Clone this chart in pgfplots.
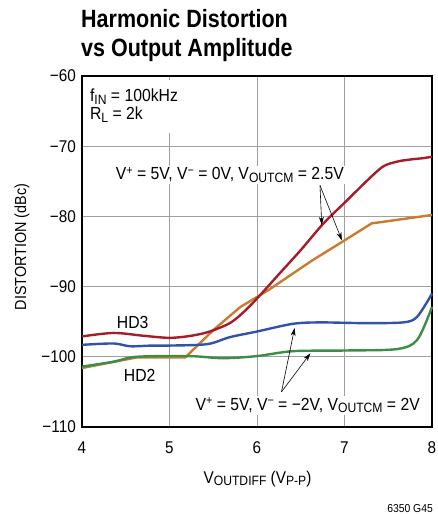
\documentclass[border=0pt]{standalone}
\usepackage{fontspec}
\setmainfont{Liberation Sans}[FakeStretch=0.9]
\newfontfamily\titlefont{Liberation Sans}[FakeStretch=0.86]
\usepackage{pgfplots}
\pgfplotsset{compat=1.18}
\usetikzlibrary{arrows.meta}
\definecolor{cred}{HTML}{A31D2A}
\definecolor{corange}{HTML}{CC7B2E}
\definecolor{cblue}{HTML}{3353A8}
\definecolor{cgreen}{HTML}{3C8D45}
\newcommand\lo[1]{\raisebox{-0.3ex}{\fontsize{13.5}{13.5}\selectfont #1}}
\newcommand\hi[1]{\raisebox{0.6ex}{\fontsize{12}{12}\selectfont #1}}
\begin{document}
\begin{tikzpicture}[x=1pt,y=1pt]
\begin{axis}[at={(0,0)}, anchor=south west, scale only axis,
  width=350pt, height=351pt,
  xmin=4, xmax=8, ymin=-110, ymax=-60,
  xtick={4,5,6,7,8}, xticklabels={4,5,6,7,8},
  ytick={-110,-100,-90,-80,-70,-60},
  yticklabels={−110,−100,−90,−80,−70,−60},
  grid=major, major grid style={gray!75, line width=0.8pt},
  major tick length=0pt,
  axis line style={line width=1.6pt},
  tick label style={font=\fontsize{17}{17}\selectfont},
  xticklabel style={anchor=base, yshift=-26pt, inner sep=0pt},
  yticklabel style={anchor=east, xshift=-6pt, inner sep=0pt},
  clip=false]
\fill[white] (axis cs:4.03,-60.5) rectangle (axis cs:5.25,-68.1);
\node[anchor=base west, inner sep=0pt, font=\fontsize{17.5}{17.5}\selectfont] at (axis cs:4.09,-63.6) {f\lo{IN} = 100kHz};
\node[anchor=base west, inner sep=0pt, font=\fontsize{17.5}{17.5}\selectfont] at (axis cs:4.09,-66.2) {R\lo{L} = 2k};
\node[anchor=base, fill=white, inner sep=1.5pt, font=\fontsize{17.5}{17.5}\selectfont] at (axis cs:5.69,-74.8) {V\hi{+} = 5V, V\hi{−} = 0V, V\lo{OUTCM} = 2.5V};
\node[anchor=base, fill=white, inner sep=1.5pt, font=\fontsize{17.5}{17.5}\selectfont] at (axis cs:6.58,-107.6) {V\hi{+} = 5V, V\hi{−} = −2V, V\lo{OUTCM} = 2V};
\node[anchor=base, fill=white, inner sep=1pt, font=\fontsize{17.5}{17.5}\selectfont] at (axis cs:4.58,-95.9) {HD3};
\node[anchor=base, fill=white, inner sep=1pt, font=\fontsize{17.5}{17.5}\selectfont] at (axis cs:4.66,-103.5) {HD2};
\addplot[corange, line width=2.4pt, sharp plot] coordinates {
(4.0,-101.6) (4.62,-100.1) (5.18,-100.1) (5.5,-96.2) (5.81,-92.9) (6.13,-90.5) (6.64,-86.2) (6.99,-83.5) (7.31,-81.0) (8.0,-79.8)};
\addplot[cred, line width=2.4pt, smooth] coordinates {
(4.0,-97.1) (4.36,-96.6) (4.7,-97.0) (5.0,-97.3) (5.25,-97.0) (5.46,-96.4) (5.69,-95.2) (5.85,-93.6) (6.0,-91.7) (6.26,-88.1) (6.5,-84.8) (6.76,-81.0) (7.03,-77.7) (7.25,-75.0) (7.44,-72.9) (7.6,-72.2) (7.75,-71.9) (7.9,-71.7) (8.0,-71.5)};
\addplot[cgreen, line width=2.4pt, smooth] coordinates {
(4.0,-101.4) (4.36,-100.7) (4.62,-100.0) (5.23,-99.9) (5.61,-100.2) (6.0,-99.9) (6.41,-99.2) (7.03,-99.1) (7.6,-98.9) (7.83,-97.6) (8.0,-92.9)};
\addplot[cblue, line width=2.4pt, smooth] coordinates {
(4.0,-98.3) (4.36,-98.1) (4.55,-98.5) (4.8,-98.4) (5.0,-98.4) (5.43,-98.2) (5.69,-97.2) (6.0,-96.4) (6.41,-95.3) (6.72,-95.1) (7.21,-95.2) (7.67,-95.1) (7.83,-94.3) (8.0,-91.0)};
\draw[-{Stealth[length=8pt,width=5pt]}, line width=0.6pt] (axis cs:6.72,-75.6) -- (axis cs:6.74,-81.2);
\draw[-{Stealth[length=8pt,width=5pt]}, line width=0.6pt] (axis cs:6.72,-75.6) -- (axis cs:6.97,-83.4);
\draw[-{Stealth[length=8pt,width=5pt]}, line width=0.6pt] (axis cs:6.28,-105) -- (axis cs:6.43,-95.9);
\draw[-{Stealth[length=8pt,width=5pt]}, line width=0.6pt] (axis cs:6.28,-105) -- (axis cs:6.61,-99.5);
\end{axis}
\node[anchor=base west, inner sep=0pt, font=\titlefont\bfseries\fontsize{25}{25}\selectfont] at (-1,399) {Harmonic Distortion};
\node[anchor=base west, inner sep=0pt, font=\titlefont\bfseries\fontsize{25}{25}\selectfont] at (-1,370) {vs Output Amplitude};
\node[rotate=90, font=\fontsize{16}{16}\selectfont] at (-60,180) {DISTORTION (dBc)};
\node[anchor=base, inner sep=0pt, font=\fontsize{17}{17}\selectfont] at (175.5,-56) {V\lo{OUTDIFF} (V\lo{P-P})};
\node[anchor=base east, inner sep=0pt, font=\fontsize{11.5}{11.5}\selectfont] at (351,-85) {6350 G45};
\pgfresetboundingbox
\path[use as bounding box] (-82,-87) rectangle (356,427);
\end{tikzpicture}
\end{document}
